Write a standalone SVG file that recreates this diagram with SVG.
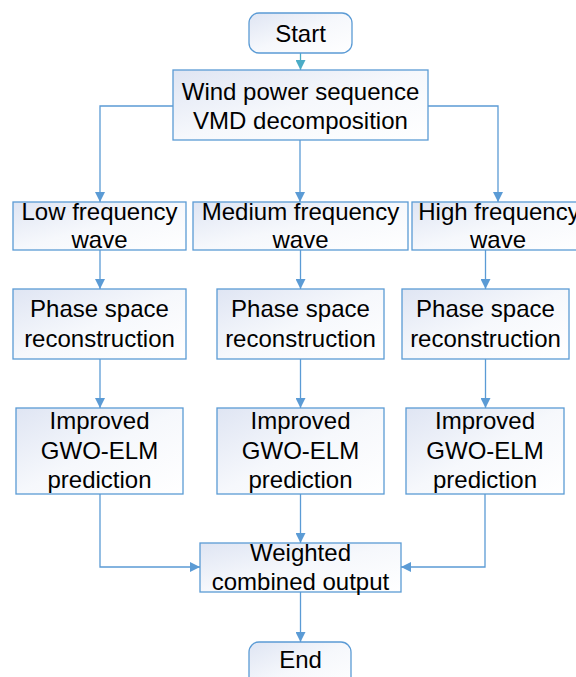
<svg xmlns="http://www.w3.org/2000/svg" width="576" height="677" viewBox="0 0 576 677">
<defs>
<linearGradient id="g" x1="0" y1="0" x2="1" y2="1">
<stop offset="0" stop-color="#dfe5f3"/>
<stop offset="0.5" stop-color="#f6f8fc"/>
<stop offset="1" stop-color="#ffffff"/>
</linearGradient>
<marker id="a" viewBox="0 0 10 10" refX="10" refY="5" markerWidth="10" markerHeight="10" markerUnits="userSpaceOnUse" orient="auto">
<path d="M0,0 L10,5 L0,10 z" fill="#5b9bd5"/>
</marker>
<marker id="t" viewBox="0 0 10 10" refX="10" refY="5" markerWidth="10" markerHeight="10" markerUnits="userSpaceOnUse" orient="auto">
<path d="M0,0 L10,5 L0,10 z" fill="#4bacc6"/>
</marker>
</defs>
<style>
.b{fill:url(#g);stroke:#5b9bd5;stroke-width:1.3}
.tx{font-family:"Liberation Sans",Arial,sans-serif;font-size:24px;fill:#000;text-anchor:middle}
.c{fill:none;stroke:#5b9bd5;stroke-width:1.3;marker-end:url(#a)}
</style>
<rect width="576" height="677" fill="#fff"/>
<g id="connectors">
<path d="M300.5,53 V70" fill="none" stroke="#4bacc6" stroke-width="1.3" marker-end="url(#t)"/>
<path class="c" d="M173,106 H100 V202"/>
<path class="c" d="M300,140 V202"/>
<path class="c" d="M428,106 H498 V202"/>
<path class="c" d="M100,250 V289"/>
<path class="c" d="M300.5,250 V289"/>
<path class="c" d="M485.5,250 V289"/>
<path class="c" d="M100,359 V408"/>
<path class="c" d="M300.5,359 V408"/>
<path class="c" d="M485.5,359 V408"/>
<path class="c" d="M100,494 V567 H200"/>
<path class="c" d="M300.5,494 V543"/>
<path class="c" d="M485,494 V567 H401"/>
<path class="c" d="M300.5,592 V642"/>
</g>
<g id="start">
<rect class="b" x="249" y="13" width="103" height="40" rx="10"/>
<text class="tx" x="300.5" y="42">Start</text>
</g>
<g id="vmd">
<rect class="b" x="173" y="70" width="255" height="70"/>
<text class="tx" x="300.5" y="100">Wind power sequence</text>
<text class="tx" x="300.5" y="129">VMD decomposition</text>
</g>
<g id="low">
<rect class="b" x="13" y="202" width="173" height="48"/>
<text class="tx" x="99.5" y="220">Low frequency</text>
<text class="tx" x="99.5" y="248">wave</text>
</g>
<g id="medium">
<rect class="b" x="193" y="202" width="215" height="48"/>
<text class="tx" x="300.5" y="220">Medium frequency</text>
<text class="tx" x="300.5" y="248">wave</text>
</g>
<g id="high">
<rect class="b" x="412" y="202" width="176" height="48"/>
<text class="tx" x="499" y="220">High frequency</text>
<text class="tx" x="498" y="248">wave</text>
</g>
<g id="psr-low">
<rect class="b" x="13" y="289" width="173" height="70"/>
<text class="tx" x="99.5" y="317">Phase space</text>
<text class="tx" x="99.5" y="347">reconstruction</text>
</g>
<g id="psr-medium">
<rect class="b" x="217" y="289" width="167" height="70"/>
<text class="tx" x="300.5" y="317">Phase space</text>
<text class="tx" x="300.5" y="347">reconstruction</text>
</g>
<g id="psr-high">
<rect class="b" x="402" y="289" width="167" height="70"/>
<text class="tx" x="485.5" y="317">Phase space</text>
<text class="tx" x="485.5" y="347">reconstruction</text>
</g>
<g id="elm-low">
<rect class="b" x="16" y="408" width="167" height="86"/>
<text class="tx" x="99.5" y="429">Improved</text>
<text class="tx" x="99.5" y="459">GWO-ELM</text>
<text class="tx" x="99.5" y="488">prediction</text>
</g>
<g id="elm-medium">
<rect class="b" x="217" y="408" width="167" height="86"/>
<text class="tx" x="300.5" y="429">Improved</text>
<text class="tx" x="300.5" y="459">GWO-ELM</text>
<text class="tx" x="300.5" y="488">prediction</text>
</g>
<g id="elm-high">
<rect class="b" x="406" y="408" width="158" height="86"/>
<text class="tx" x="485" y="429">Improved</text>
<text class="tx" x="485" y="459">GWO-ELM</text>
<text class="tx" x="485" y="488">prediction</text>
</g>
<g id="combine">
<rect class="b" x="200" y="543" width="201" height="49"/>
<text class="tx" x="300.5" y="561">Weighted</text>
<text class="tx" x="300.5" y="590">combined output</text>
</g>
<g id="end">
<rect class="b" x="249" y="642" width="102" height="50" rx="10"/>
<text class="tx" x="300.5" y="668">End</text>
</g>
</svg>
